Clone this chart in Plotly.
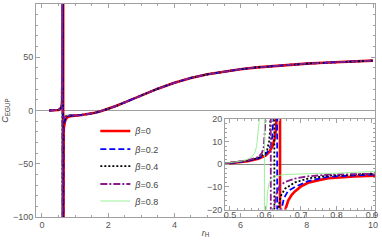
import plotly.graph_objects as go

# ---------------- data ----------------
betas = ["0", "0.2", "0.4", "0.6", "0.8"]

# small-r part shared by all curves
r_small = [0.22, 0.3, 0.4, 0.45]
c_small = [0.0, 0.05, 0.2, 0.35]

# branch left of the divergence, per beta
r_left_b0 = [0.5, 0.55, 0.58, 0.6, 0.61, 0.62, 0.626, 0.63, 0.632, 0.636, 0.639, 0.6405]
c_left_b0 = [0.5, 1.4, 2.4, 3.8, 5.3, 8.0, 11.5, 16, 20, 35, 80, 400]
r_left_b2 = [0.5, 0.55, 0.58, 0.6, 0.61, 0.615, 0.62, 0.623, 0.627, 0.63, 0.6325]
c_left_b2 = [0.55, 1.5, 2.6, 4.3, 6.3, 8.5, 13, 20, 35, 80, 400]
r_left_b4 = [0.5, 0.55, 0.58, 0.6, 0.605, 0.61, 0.613, 0.615, 0.619, 0.622, 0.6245]
c_left_b4 = [0.6, 1.6, 2.8, 5.0, 6.5, 10, 15, 20, 35, 80, 400]
r_left_b6 = [0.5, 0.55, 0.58, 0.59, 0.595, 0.6, 0.603, 0.607, 0.611, 0.6145]
c_left_b6 = [0.65, 1.7, 3.2, 5.0, 7.5, 14, 20, 35, 80, 400]
r_left_b8 = [0.5, 0.54, 0.56, 0.57, 0.575, 0.58, 0.583, 0.587, 0.592, 0.5965]
c_left_b8 = [0.7, 1.6, 3.0, 5.0, 8.0, 14, 20, 35, 80, 400]

# branch right of the divergence, per beta
r_right_b0 = [0.6415, 0.645, 0.65, 0.656, 0.664, 0.674, 0.683, 0.7, 0.72, 0.75, 0.777, 0.85, 0.9]
c_right_b0 = [-400, -80, -35, -20, -16, -13.5, -12, -9.8, -8.2, -7.0, -6.2, -5.4, -5.0]
r_right_b2 = [0.6335, 0.636, 0.64, 0.645, 0.652, 0.664, 0.683, 0.72, 0.777, 0.85, 0.9]
c_right_b2 = [-400, -80, -35, -20, -15, -11.7, -10, -7.4, -5.5, -4.9, -4.7]
r_right_b4 = [0.6255, 0.628, 0.632, 0.636, 0.643, 0.655, 0.683, 0.72, 0.777, 0.85, 0.9]
c_right_b4 = [-400, -80, -35, -20, -14, -10.8, -8.0, -6.3, -5.0, -4.6, -4.5]
r_right_b6 = [0.6155, 0.618, 0.621, 0.624, 0.63, 0.64, 0.655, 0.683, 0.72, 0.777, 0.85, 0.9]
c_right_b6 = [-400, -80, -35, -20, -13.5, -9.5, -7.8, -6.3, -5.3, -4.6, -4.3, -4.2]
r_right_b8 = [0.5975, 0.599, 0.601, 0.603, 0.606, 0.61, 0.617, 0.63, 0.65, 0.7, 0.75, 0.8, 0.9]
c_right_b8 = [-400, -100, -40, -20, -12, -8.5, -6.3, -5.2, -4.6, -4.2, -4.0, -3.95, -3.9]

# large-r tail shared by all curves
r_tail = [1.0, 1.2, 1.4, 1.6, 1.8, 2.0, 2.25, 2.5, 2.75, 3.0, 3.5, 4.0, 4.5, 5.0,
          5.5, 6.0, 6.5, 7.0, 7.5, 8.0, 8.5, 9.0, 9.5, 10.0]
c_tail = [-4.8, -4.3, -3.4, -2.2, -0.4, 1.6, 4.4, 7.6, 10.8, 14.0, 20.5, 26.0, 30.6, 34.0,
          36.7, 38.8, 40.5, 41.9, 43.0, 44.0, 44.8, 45.5, 46.2, 46.8]

x_ticks_main = [0, 2, 4, 6, 8, 10]
y_ticks_main = [-100, -50, 0, 50, 100]
x_ticks_inset = [0.5, 0.6, 0.7, 0.8, 0.9]
y_ticks_inset = [-20, -10, 0, 10, 20]

lefts = [(r_left_b0, c_left_b0), (r_left_b2, c_left_b2), (r_left_b4, c_left_b4),
         (r_left_b6, c_left_b6), (r_left_b8, c_left_b8)]
rights = [(r_right_b0, c_right_b0), (r_right_b2, c_right_b2), (r_right_b4, c_right_b4),
          (r_right_b6, c_right_b6), (r_right_b8, c_right_b8)]

# ---------------- styles ----------------
styles = [
    dict(color="#ff0000", width=2.6, dash="solid"),
    dict(color="#0000ff", width=1.8, dash="6px,3px"),
    dict(color="#000000", width=1.8, dash="2px,2px"),
    dict(color="#8b1a8b", width=1.8, dash="7px,2px,2px,2px"),
    dict(color="#90ee90", width=0.9, dash="solid"),
]
main_draw_order = [4, 0, 1, 2, 3]
legend_ids = ["legend", "legend2", "legend3", "legend4", "legend5"]
legend_rows_y = [0.404, 0.319, 0.239, 0.155, 0.075]

FONT = "Liberation Sans, Arial, sans-serif"


def curve(i):
    rl, cl = lefts[i]
    rr, cr = rights[i]
    return r_small + rl + rr + r_tail, c_small + cl + cr + c_tail


fig = go.Figure()
# main panel (thin green drawn underneath)
for i in main_draw_order:
    xs, ys = curve(i)
    fig.add_trace(go.Scatter(x=xs, y=ys, mode="lines", line=styles[i],
                             showlegend=False, xaxis="x", yaxis="y"))
# inset panel, carries the legend entries (one legend box per row)
for i, b in enumerate(betas):
    xs, ys = curve(i)
    fig.add_trace(go.Scatter(x=xs, y=ys, mode="lines", line=styles[i],
                             name=f"<i>β</i>={b}", legend=legend_ids[i],
                             xaxis="x2", yaxis="y2"))

frame = "#a0a0a0"
tickfont = dict(family=FONT, size=9, color="#555555")

common = dict(showgrid=False, showline=True, linecolor=frame, linewidth=1,
              mirror="ticks", ticks="inside", tickcolor=frame, ticklen=4,
              tickfont=tickfont, automargin=False)

legend_layout = {}
for lid, ly in zip(legend_ids, legend_rows_y):
    legend_layout[lid] = dict(x=0.175, y=ly, xanchor="left", yanchor="middle",
                              bgcolor="rgba(0,0,0,0)",
                              font=dict(family=FONT, size=9, color="#444444"))

fig.update_layout(
    width=382, height=242,
    margin=dict(l=36, r=7, t=4, b=25, autoexpand=False),
    paper_bgcolor="white", plot_bgcolor="white",
    showlegend=True,
    **legend_layout,
    xaxis=dict(domain=[0, 1], range=[-0.18, 10.06], tickvals=x_ticks_main,
               zeroline=False, ticklabelstandoff=-1,
               minor=dict(dtick=0.5, ticklen=2, tickcolor=frame, ticks="inside"),
               title=dict(text="<i>r</i><sub>H</sub>", standoff=0,
                          font=dict(family=FONT, size=9, color="#444444")),
               **common),
    yaxis=dict(domain=[0, 1], range=[-100, 100], tickvals=y_ticks_main,
               zeroline=True, zerolinecolor=frame, zerolinewidth=1,
               minor=dict(dtick=10, ticklen=2, tickcolor=frame, ticks="inside"),
               title=dict(text="<i>C</i><sub>EGUP</sub>", standoff=4,
                          font=dict(family=FONT, size=9, color="#444444")),
               **common),
    xaxis2=dict(domain=[0.5575, 1.0], range=[0.486, 0.9085], anchor="y2",
                tickvals=x_ticks_inset, ticktext=[str(v) for v in x_ticks_inset],
                zeroline=False, ticklabelstandoff=-3,
                minor=dict(dtick=0.02, ticklen=2, tickcolor=frame, ticks="inside"),
                **common),
    yaxis2=dict(domain=[0.035, 0.46], range=[-20, 20], anchor="x2",
                tickvals=y_ticks_inset,
                zeroline=True, zerolinecolor="#888888", zerolinewidth=1,
                minor=dict(dtick=2, ticklen=2, tickcolor=frame, ticks="inside"),
                **common),
)
fig.add_shape(type="rect", xref="x2 domain", yref="y2 domain", x0=0, x1=1, y0=0, y1=1,
              fillcolor="white", line=dict(width=0), layer="below")

fig.write_html("out.html", config={"displayModeBar": False},
               post_script="document.body.style.margin='0';document.body.style.overflow='hidden';")
